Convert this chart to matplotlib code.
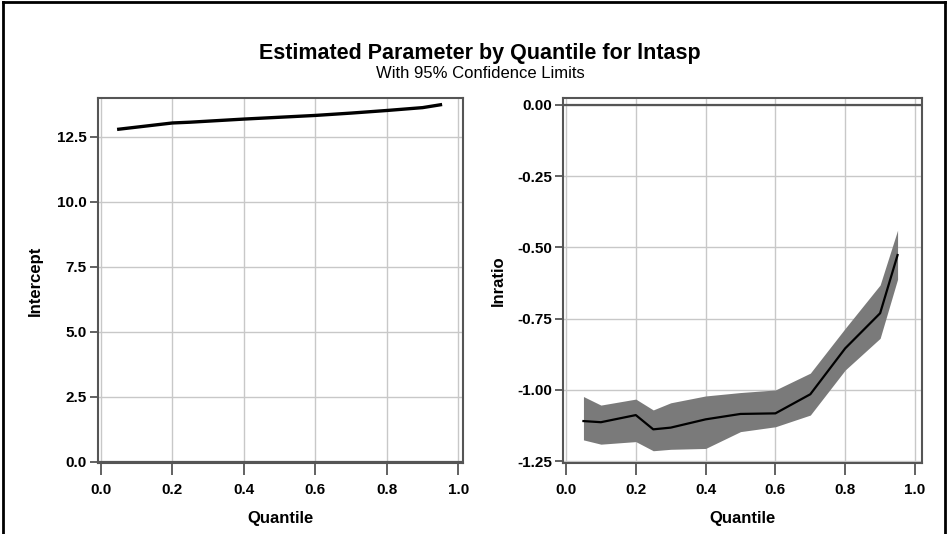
import matplotlib
matplotlib.use("Agg")
import matplotlib.pyplot as plt
from matplotlib.lines import Line2D

quantiles = [0.05, 0.1, 0.2, 0.25, 0.3, 0.4, 0.5, 0.6, 0.7, 0.8, 0.9, 0.95]
intercept = [12.78, 12.86, 13.02, 13.05, 13.09, 13.17, 13.24, 13.31, 13.40, 13.50, 13.61, 13.72]
lnratio = [-1.109, -1.113, -1.088, -1.138, -1.132, -1.103, -1.084, -1.082, -1.015, -0.854, -0.731, -0.527]
lnratio_upper = [-1.023, -1.053, -1.032, -1.070, -1.045, -1.021, -1.009, -1.000, -0.941, -0.784, -0.632, -0.440]
lnratio_lower = [-1.175, -1.190, -1.181, -1.213, -1.208, -1.205, -1.146, -1.129, -1.088, -0.930, -0.819, -0.612]

xticks = [0.0, 0.2, 0.4, 0.6, 0.8, 1.0]
left_yticks = [0.0, 2.5, 5.0, 7.5, 10.0, 12.5]
right_yticks = [-1.25, -1.00, -0.75, -0.50, -0.25, 0.00]

plt.rcParams['font.family'] = ['Liberation Sans', 'DejaVu Sans']

W, H = 948, 534
fig = plt.figure(figsize=(W / 100, H / 100), dpi=100)

def px_axes(x0, x1, y0, y1):
    return fig.add_axes([x0 / W, 1 - y1 / H, (x1 - x0) / W, (y1 - y0) / H])

frame_col = '#555555'
grid_col = '#c8c8c8'

def style(ax):
    ax.grid(True, color=grid_col, linewidth=1.0)
    ax.set_axisbelow(True)
    for s in ax.spines.values():
        s.set_color(frame_col)
        s.set_linewidth(1.5)
    ax.tick_params(axis='x', direction='out', length=8.5, width=1.3, color=frame_col,
                   labelsize=11, pad=6)
    ax.tick_params(axis='y', direction='out', length=6, width=1.3, color=frame_col,
                   labelsize=11, pad=2)
    for lab in ax.get_xticklabels() + ax.get_yticklabels():
        lab.set_fontweight('bold')
    ax.set_xlabel('Quantile', fontsize=12, fontweight='bold', labelpad=10)

ax1 = px_axes(98, 463, 98, 463)
ax1.plot(quantiles, intercept, color='black', linewidth=2.4)
ax1.axhline(0, color=frame_col, linewidth=1.6)
ax1.set_xlim(-0.008, 1.013)
ax1.set_ylim(-0.05, 13.98)
ax1.set_xticks(xticks)
ax1.set_xticklabels([f"{v:.1f}" for v in xticks])
ax1.set_yticks(left_yticks)
ax1.set_yticklabels([f"{v:.1f}" for v in left_yticks])
ax1.set_ylabel('Intercept', fontsize=12, fontweight='bold', labelpad=10)
style(ax1)

ax2 = px_axes(563, 922, 98, 463)
ax2.fill_between(quantiles, lnratio_lower, lnratio_upper, color='#7a7a7a', linewidth=0)
ax2.plot(quantiles, lnratio, color='black', linewidth=1.6)
ax2.axhline(0, color=frame_col, linewidth=1.6)
ax2.set_xlim(-0.0086, 1.02)
ax2.set_ylim(-1.256, 0.0235)
ax2.set_xticks(xticks)
ax2.set_xticklabels([f"{v:.1f}" for v in xticks])
ax2.set_yticks(right_yticks)
ax2.set_yticklabels([f"{v:.2f}" for v in right_yticks])
ax2.set_ylabel('lnratio', fontsize=12, fontweight='bold', labelpad=8)
style(ax2)

fig.text(480 / W, 1 - 53 / H, 'Estimated Parameter by Quantile for lntasp',
         ha='center', va='center', fontsize=15.5, fontweight='bold')
fig.text(480 / W, 1 - 74 / H, 'With 95% Confidence Limits',
         ha='center', va='center', fontsize=12)

# outer border (left, top, right)
for xs, ys in [([3 / W, 3 / W], [0, 1 - 2 / H]),
               ([3 / W, 945 / W], [1 - 2 / H, 1 - 2 / H]),
               ([945 / W, 945 / W], [0, 1 - 2 / H])]:
    fig.add_artist(Line2D(xs, ys, color='black', linewidth=2.0, transform=fig.transFigure))

fig.savefig('out.png', dpi=100)
